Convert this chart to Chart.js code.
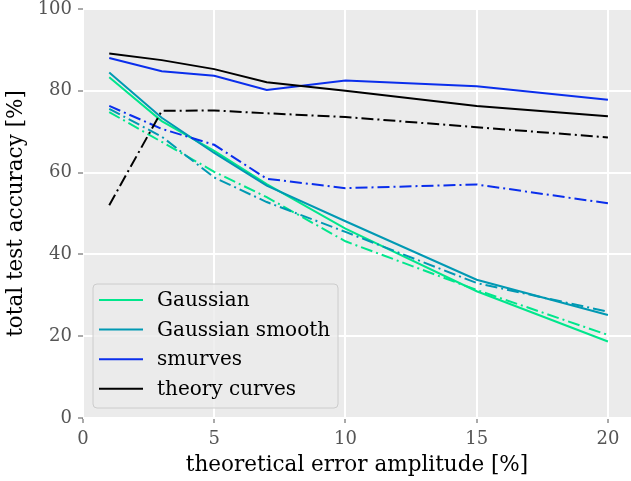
<!DOCTYPE html>
<html>
<head>
<meta charset="utf-8">
<script src="https://cdn.jsdelivr.net/npm/chart.js@4.4.1/dist/chart.umd.min.js"></script>
<style>
  html, body { margin: 0; padding: 0; background: #fff; }
  #wrap { width: 631px; height: 481px; }
</style>
</head>
<body>
<div id="wrap"><canvas id="accChart"></canvas></div>
<script>
// error amplitudes [%]
const amplitudes = [1, 3, 5, 7, 10, 15, 20];
const xTicks = [0, 5, 10, 15, 20];
const yTicks = [0, 20, 40, 60, 80, 100];

// accuracies [%], solid = one variant, dash-dot = the other
const gaussian = [83.3, 72.6, 65.3, 57.2, 46.3, 31.0, 18.7];
const gaussianDashed = [74.8, 67.5, 60.2, 54.0, 43.2, 31.3, 20.3];
const gaussianSmooth = [84.5, 73.4, 64.8, 56.8, 48.1, 33.8, 25.2];
const gaussianSmoothDashed = [75.6, 68.8, 58.8, 52.8, 45.5, 33.0, 26.0];
const smurves = [88.0, 84.8, 83.7, 80.2, 82.5, 81.1, 77.8];
const smurvesDashed = [76.3, 70.7, 66.8, 58.5, 56.2, 57.1, 52.5];
const theory = [89.1, 87.5, 85.3, 82.1, 80.0, 76.3, 73.8];
const theoryDashed = [52.0, 75.1, 75.2, 74.5, 73.6, 71.1, 68.6];

const labels = ["Gaussian", "Gaussian smooth", "smurves", "theory curves"];
const colors = ["#00e68c", "#0099b3", "#0a2eec", "#000000"];
const FONT = "'DejaVu Serif', serif";

function pts(arr) {
  return arr.map((v, i) => ({ x: amplitudes[i], y: v }));
}

function series(label, data, color, dashed) {
  return {
    label: label,
    data: pts(data),
    borderColor: color,
    backgroundColor: color,
    borderWidth: 2,
    borderDash: dashed ? [12, 4, 2, 4] : [],
    pointRadius: 0,
    tension: 0,
    fill: false,
  };
}

const datasets = [
  series(labels[0], gaussian, colors[0], false),
  series(labels[0], gaussianDashed, colors[0], true),
  series(labels[1], gaussianSmooth, colors[1], false),
  series(labels[1], gaussianSmoothDashed, colors[1], true),
  series(labels[2], smurves, colors[2], false),
  series(labels[2], smurvesDashed, colors[2], true),
  series(labels[3], theory, colors[3], false),
  series(labels[3], theoryDashed, colors[3], true),
];
// later plotted lines on top, like matplotlib
datasets.forEach((d, i) => (d.order = datasets.length - i));

// grey panel behind the plot
const panelBg = {
  id: "panelBg",
  beforeDraw(chart) {
    const a = chart.chartArea;
    const ctx = chart.ctx;
    ctx.save();
    ctx.fillStyle = "#ebebeb";
    ctx.fillRect(a.left, a.top, a.right - a.left, a.bottom - a.top);
    ctx.restore();
  },
};

// legend box in lower left corner of the plot
const innerLegend = {
  id: "innerLegend",
  afterDraw(chart) {
    const ctx = chart.ctx;
    const a = chart.chartArea;
    const x0 = a.left + 10, y0 = 284, w = 245, h = 124;
    ctx.save();
    ctx.beginPath();
    ctx.roundRect(x0, y0, w, h, 4);
    ctx.fillStyle = "rgba(235,235,235,0.8)";
    ctx.fill();
    ctx.strokeStyle = "#cccccc";
    ctx.lineWidth = 1;
    ctx.stroke();
    ctx.font = "20px " + FONT;
    ctx.textBaseline = "middle";
    ctx.fillStyle = "#000";
    labels.forEach((lab, i) => {
      const y = 300 + i * 29.6;
      ctx.beginPath();
      ctx.strokeStyle = colors[i];
      ctx.lineWidth = 2;
      ctx.moveTo(x0 + 6, y);
      ctx.lineTo(x0 + 50, y);
      ctx.stroke();
      ctx.fillText(lab, x0 + 64, y + 1);
    });
    ctx.restore();
  },
};

new Chart(document.getElementById("accChart"), {
  type: "line",
  data: { datasets: datasets },
  options: {
    responsive: true,
    maintainAspectRatio: false,
    animation: false,
    layout: { padding: { top: 9, right: 0, left: 0, bottom: 0 } },
    plugins: {
      legend: { display: false },
      tooltip: { enabled: false },
    },
    scales: {
      x: {
        type: "linear",
        min: 0,
        max: 20.88,
        afterBuildTicks: (axis) => { axis.ticks = xTicks.map((v) => ({ value: v })); },
        afterFit: (axis) => {
          axis.height = 63;
          axis.paddingLeft = 0;
          axis.paddingRight = 0;
        },
        ticks: {
          color: "#555",
          font: { family: FONT, size: 18 },
          padding: 6,
          maxRotation: 0,
        },
        grid: { color: "#fff", lineWidth: 2, tickColor: "#555", tickLength: 5, tickWidth: 1 },
        border: { display: false },
        title: {
          display: true,
          text: "theoretical error amplitude [%]",
          color: "#000",
          font: { family: FONT, size: 21.5 },
          padding: { top: 0, bottom: 3 },
        },
      },
      y: {
        min: 0,
        max: 100,
        afterBuildTicks: (axis) => { axis.ticks = yTicks.map((v) => ({ value: v })); },
        afterFit: (axis) => {
          axis.width = 83;
          axis.paddingTop = 0;
          axis.paddingBottom = 0;
        },
        ticks: {
          color: "#555",
          font: { family: FONT, size: 18 },
          padding: 6,
        },
        grid: { color: "#fff", lineWidth: 2, tickColor: "#555", tickLength: 5, tickWidth: 1 },
        border: { display: false },
        title: {
          display: true,
          text: "total test accuracy [%]",
          color: "#000",
          font: { family: FONT, size: 21.5 },
          padding: { top: 4, bottom: 0 },
        },
      },
    },
  },
  plugins: [panelBg, innerLegend],
});
</script>
</body>
</html>
